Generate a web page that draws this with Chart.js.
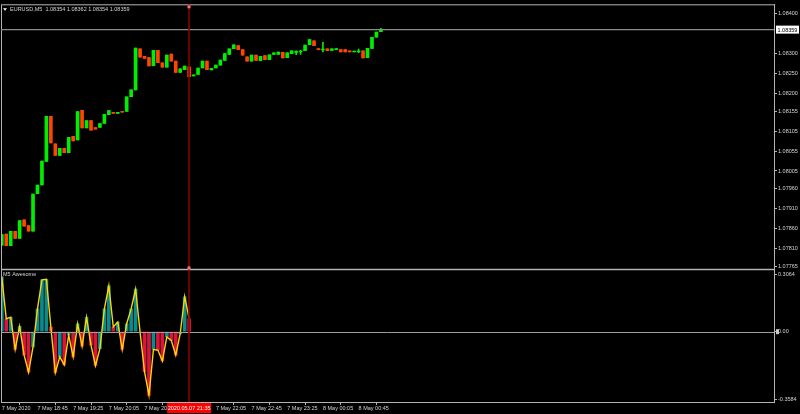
<!DOCTYPE html>
<html>
<head>
<meta charset="utf-8">
<script src="https://cdn.jsdelivr.net/npm/chart.js@4.4.1/dist/chart.umd.min.js"></script>
<style>
  html, body { margin: 0; padding: 0; background: #000; }
  canvas { display: block; }
</style>
</head>
<body>
<canvas id="chart" width="800" height="414"></canvas>
<script>
// EURUSD M5 bars, 7 May 2020 18:05 -> 8 May 01:10
const opens = [
  1.07819, 1.07847, 1.07818, 1.07854, 1.07836, 1.07883, 1.07868, 1.07854, 1.07948, 1.07970,
  1.08029, 1.08142, 1.08073, 1.08044, 1.08062, 1.08051, 1.08092, 1.08083, 1.08157, 1.08113,
  1.08131, 1.08114, 1.08114, 1.08124, 1.08146, 1.08152, 1.08149, 1.08154, 1.08154, 1.08191,
  1.08208, 1.08311, 1.08292, 1.08289, 1.08269, 1.08307, 1.08276, 1.08265, 1.08298, 1.08280,
  1.08252, 1.08259, 1.08266, 1.08243, 1.08247, 1.08263, 1.08280, 1.08258, 1.08263, 1.08270,
  1.08282, 1.08297, 1.08311, 1.08319, 1.08309, 1.08291, 1.08280, 1.08295, 1.08281, 1.08294,
  1.08284, 1.08297, 1.08297, 1.08302, 1.08289, 1.08299, 1.08302, 1.08303, 1.08306, 1.08321,
  1.08331, 1.08311, 1.08308, 1.08311, 1.08307, 1.08309, 1.08309, 1.08309, 1.08306, 1.08303,
  1.08303, 1.08306, 1.08289, 1.08312, 1.08340, 1.08354
];
const highs = [
  1.07846, 1.07847, 1.07854, 1.07854, 1.07881, 1.07883, 1.07868, 1.07947, 1.07970, 1.08030,
  1.08142, 1.08142, 1.08073, 1.08062, 1.08062, 1.08089, 1.08092, 1.08154, 1.08157, 1.08131,
  1.08131, 1.08114, 1.08124, 1.08147, 1.08156, 1.08152, 1.08152, 1.08154, 1.08191, 1.08208,
  1.08313, 1.08311, 1.08292, 1.08289, 1.08307, 1.08307, 1.08276, 1.08295, 1.08298, 1.08280,
  1.08261, 1.08268, 1.08266, 1.08245, 1.08263, 1.08280, 1.08280, 1.08262, 1.08270, 1.08283,
  1.08299, 1.08311, 1.08321, 1.08319, 1.08309, 1.08291, 1.08295, 1.08295, 1.08292, 1.08294,
  1.08296, 1.08301, 1.08303, 1.08302, 1.08301, 1.08306, 1.08306, 1.08308, 1.08320, 1.08334,
  1.08331, 1.08311, 1.08327, 1.08311, 1.08311, 1.08310, 1.08309, 1.08309, 1.08306, 1.08304,
  1.08310, 1.08306, 1.08312, 1.08340, 1.08353, 1.08362
];
const lows = [
  1.07819, 1.07818, 1.07818, 1.07836, 1.07836, 1.07867, 1.07854, 1.07854, 1.07948, 1.07970,
  1.08029, 1.08075, 1.08044, 1.08044, 1.08051, 1.08051, 1.08080, 1.08083, 1.08113, 1.08113,
  1.08107, 1.08110, 1.08114, 1.08124, 1.08146, 1.08149, 1.08149, 1.08152, 1.08154, 1.08191,
  1.08208, 1.08290, 1.08287, 1.08268, 1.08269, 1.08276, 1.08265, 1.08265, 1.08280, 1.08252,
  1.08252, 1.08259, 1.08241, 1.08243, 1.08247, 1.08263, 1.08259, 1.08258, 1.08263, 1.08270,
  1.08282, 1.08297, 1.08311, 1.08309, 1.08295, 1.08280, 1.08280, 1.08282, 1.08281, 1.08284,
  1.08284, 1.08297, 1.08297, 1.08288, 1.08289, 1.08299, 1.08296, 1.08297, 1.08306, 1.08321,
  1.08319, 1.08309, 1.08303, 1.08306, 1.08307, 1.08309, 1.08303, 1.08303, 1.08303, 1.08303,
  1.08301, 1.08288, 1.08289, 1.08312, 1.08340, 1.08354
];
const closes = [
  1.07846, 1.07818, 1.07854, 1.07836, 1.07881, 1.07867, 1.07854, 1.07947, 1.07970, 1.08030,
  1.08142, 1.08075, 1.08044, 1.08062, 1.08051, 1.08089, 1.08080, 1.08154, 1.08113, 1.08131,
  1.08107, 1.08110, 1.08124, 1.08147, 1.08156, 1.08149, 1.08152, 1.08152, 1.08191, 1.08208,
  1.08313, 1.08290, 1.08287, 1.08268, 1.08307, 1.08276, 1.08265, 1.08295, 1.08280, 1.08252,
  1.08261, 1.08268, 1.08241, 1.08244, 1.08263, 1.08280, 1.08259, 1.08262, 1.08270, 1.08283,
  1.08299, 1.08311, 1.08321, 1.08309, 1.08295, 1.08280, 1.08295, 1.08282, 1.08292, 1.08284,
  1.08296, 1.08301, 1.08303, 1.08288, 1.08301, 1.08306, 1.08303, 1.08305, 1.08320, 1.08334,
  1.08319, 1.08309, 1.08309, 1.08306, 1.08311, 1.08310, 1.08303, 1.08303, 1.08303, 1.08304,
  1.08305, 1.08288, 1.08312, 1.08340, 1.08353, 1.08359
];

// Awesome oscillator, only up to the cursor bar
const aoValues = [
  0.292, 0.069, 0.077, -0.095, 0.028, -0.125, -0.216, -0.081, 0.121, 0.276,
  0.279, 0.025, -0.218, -0.134, -0.177, -0.019, -0.134, 0.042, -0.077, 0.077,
  -0.072, -0.181, -0.090, 0.121, 0.244, 0.025, 0.051, -0.095, 0.042, 0.121,
  0.227, -0.002, -0.213, -0.339, -0.095, -0.098, -0.156, -0.028, -0.046, -0.125,
  -0.011, 0.186, 0.069
];

const priceTicks = [1.08400, 1.08300, 1.08250, 1.08200, 1.08155, 1.08105, 1.08055,
  1.08005, 1.07960, 1.07910, 1.07860, 1.07810, 1.07765];
const aoTicks = [0.3064, 0, -0.3584];
const timeTickBars = [0, 8, 16, 24, 32, 40, 48, 56, 64, 72, 80];
const timeLabels = ['7 May 2020', '7 May 18:45', '7 May 19:25', '7 May 20:05', '7 May 20:45',
  '7 May 21:25', '7 May 22:05', '7 May 22:45', '7 May 23:25', '8 May 00:05', '8 May 00:45'];

const symbol = 'EURUSD,M5';
const aoTitle = 'M5 Awesome';
const cursorBar = 42;
const cursorLabel = '2020.05.07 21:35';

const bullColor = '#00ee00';
const bearColor = '#ff4500';
const aoUp = '#0a8c8c';
const aoDown = '#dc143c';
const aoLine = '#ffd700';
const axisColor = '#b4b4b4';
const textColor = '#d4d4d4';

Chart.defaults.font.family = "'Liberation Sans', Arial, sans-serif";
Chart.defaults.font.size = 5.5;

const candleColors = opens.map((o, i) => closes[i] >= o ? bullColor : bearColor);
const bodyData = opens.map((o, i) => ({ x: i, y: [o, closes[i]] }));
const wickData = lows.map((l, i) => ({ x: i, y: [l, highs[i]] }));
const aoData = aoValues.map((v, i) => ({ x: i, y: v }));
const aoColors = aoValues.map((v, i) => (i === 0 || v >= aoValues[i - 1]) ? aoUp : aoDown);

// frame, bid line, zero line, cursor and the little labels MT4 draws
const overlay = {
  id: 'overlay',
  afterDatasetsDraw(chart) {
    const { ctx, chartArea: a, scales } = chart;
    const x = scales.x, y = scales.y, y2 = scales.y2;
    ctx.save();
    ctx.strokeStyle = axisColor;
    ctx.lineWidth = 1;
    ctx.strokeRect(a.left + 0.5, a.top + 0.5, a.right - a.left, a.bottom - a.top);
    ctx.lineWidth = 1.5;
    ctx.beginPath();
    ctx.moveTo(a.left, y2.top);
    ctx.lineTo(a.right, y2.top);
    ctx.stroke();

    // bid line
    const by = y.getPixelForValue(closes[closes.length - 1]);
    ctx.strokeStyle = '#8c8c8c';
    ctx.lineWidth = 1.3;
    ctx.beginPath();
    ctx.moveTo(a.left, by);
    ctx.lineTo(a.right, by);
    ctx.stroke();

    // zero line
    const zy = Math.round(y2.getPixelForValue(0)) + 0.5;
    ctx.strokeStyle = '#a0a0a0';
    ctx.lineWidth = 1;
    ctx.beginPath();
    ctx.moveTo(a.left, zy);
    ctx.lineTo(a.right, zy);
    ctx.stroke();

    // cursor line
    const cx = Math.round(x.getPixelForValue(cursorBar));
    ctx.strokeStyle = '#8a0000';
    ctx.lineWidth = 1.6;
    ctx.beginPath();
    ctx.moveTo(cx, a.top);
    ctx.lineTo(cx, a.bottom);
    ctx.stroke();
    ctx.fillStyle = '#ff7070';
    ctx.fillRect(cx - 1.5, a.top + 1, 3, 3);
    ctx.fillRect(cx - 1.5, y.bottom - 3, 3, 3);
    ctx.restore();
  },
  afterDraw(chart) {
    const { ctx, chartArea: a, scales } = chart;
    const x = scales.x, y = scales.y, y2 = scales.y2;
    const last = closes.length - 1;
    ctx.save();
    ctx.font = "5.5px 'Liberation Sans', Arial, sans-serif";
    ctx.textBaseline = 'middle';

    // symbol line
    ctx.fillStyle = '#ffffff';
    ctx.beginPath();
    ctx.moveTo(a.left + 2, a.top + 4);
    ctx.lineTo(a.left + 6, a.top + 4);
    ctx.lineTo(a.left + 4, a.top + 6.5);
    ctx.closePath();
    ctx.fill();
    ctx.fillStyle = textColor;
    const ohlc = [opens[last], highs[last], lows[last], closes[last]].map(v => v.toFixed(5)).join(' ');
    ctx.textAlign = 'left';
    ctx.fillText(symbol + '  ' + ohlc, a.left + 9, a.top + 5);
    ctx.fillText(aoTitle, a.left + 2, y2.top + 5);

    // bid price box
    const by = y.getPixelForValue(closes[last]);
    ctx.fillStyle = '#ffffff';
    ctx.fillRect(a.right + 2, by - 4, 23, 8);
    ctx.fillStyle = '#000000';
    ctx.fillText(closes[last].toFixed(5), a.right + 3.5, by + 0.5);

    // zero marker
    const zy = y2.getPixelForValue(0);
    ctx.fillStyle = '#c8c8c8';
    ctx.fillRect(a.right + 2, zy - 2.5, 3, 5);

    // cursor time box
    const cx = x.getPixelForValue(cursorBar);
    ctx.fillStyle = '#ff0000';
    ctx.fillRect(cx - 22, a.bottom + 1, 44, 10);
    ctx.fillStyle = '#ffffff';
    ctx.textAlign = 'center';
    ctx.fillText(cursorLabel, cx, a.bottom + 6);
    ctx.restore();
  }
};

new Chart(document.getElementById('chart').getContext('2d'), {
  type: 'bar',
  data: {
    datasets: [
      { type: 'line', label: 'AO line', data: aoData, yAxisID: 'y2', borderColor: aoLine,
        borderWidth: 1.4, pointRadius: 0, tension: 0, order: 0 },
      { label: 'Body', data: bodyData, yAxisID: 'y', backgroundColor: candleColors,
        barThickness: 3, minBarLength: 1, grouped: false, order: 1 },
      { label: 'Wick', data: wickData, yAxisID: 'y', backgroundColor: candleColors,
        barThickness: 1, minBarLength: 1, grouped: false, order: 2 },
      { label: 'AO', data: aoData, yAxisID: 'y2', backgroundColor: aoColors,
        barThickness: 3, grouped: false, order: 3 }
    ]
  },
  options: {
    responsive: false,
    animation: false,
    layout: { padding: { left: 1, top: 1, right: 0, bottom: 0 } },
    plugins: { legend: { display: false }, tooltip: { enabled: false } },
    scales: {
      x: {
        type: 'linear', min: -0.18, max: 173.14, offset: false,
        grid: { drawOnChartArea: false, tickLength: 3, color: axisColor },
        border: { display: true, color: axisColor },
        afterBuildTicks: (axis) => { axis.ticks = timeTickBars.map(v => ({ value: v })); },
        afterFit: (axis) => { axis.height = 12; },
        ticks: { align: 'start', maxRotation: 0, autoSkip: false, padding: 0, color: textColor,
          callback: (v, i) => timeLabels[i] }
      },
      y: {
        type: 'linear', position: 'right', stack: 'panes', stackWeight: 2,
        min: 1.077585, max: 1.084224,
        grid: { drawOnChartArea: false, tickLength: 3, color: axisColor },
        border: { display: true, color: axisColor },
        afterBuildTicks: (axis) => { axis.ticks = priceTicks.map(v => ({ value: v })); },
        afterFit: (axis) => { axis.width = 26; },
        ticks: { padding: 1, color: textColor, autoSkip: false, callback: v => v.toFixed(5) }
      },
      y2: {
        type: 'linear', position: 'right', stack: 'panes', stackWeight: 1,
        min: -0.3742, max: 0.3312,
        grid: { drawOnChartArea: false, tickLength: 3, color: axisColor },
        border: { display: true, color: axisColor },
        afterBuildTicks: (axis) => { axis.ticks = aoTicks.map(v => ({ value: v })); },
        afterFit: (axis) => { axis.width = 26; },
        ticks: { padding: 1, color: textColor, autoSkip: false,
          callback: v => v === 0 ? '0.00' : v.toFixed(4) }
      }
    }
  },
  plugins: [overlay]
});
</script>
</body>
</html>
